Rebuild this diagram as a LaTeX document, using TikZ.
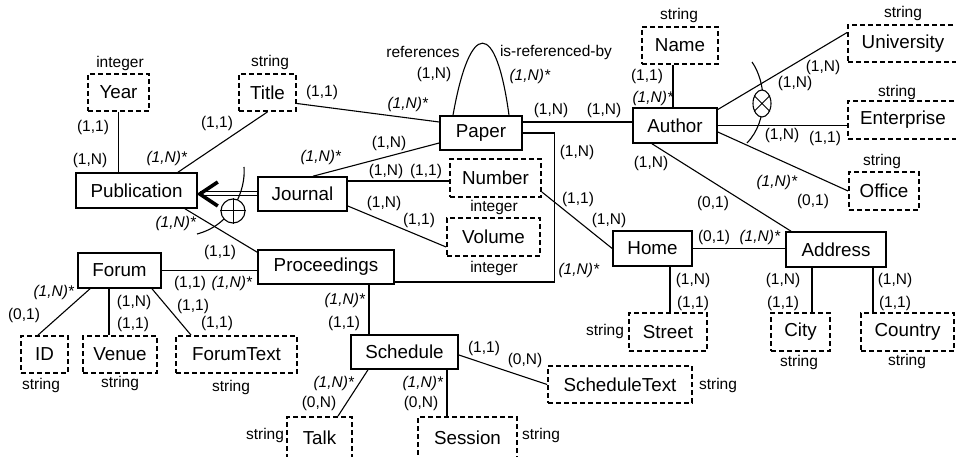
\documentclass[tikz,border=0pt]{standalone}
\usepackage{fontspec}
\setmainfont{Liberation Sans}
\usetikzlibrary{calc,shapes.geometric}

\begin{document}
\begin{tikzpicture}[x=1pt,y=-1pt,
  sz/.style 2 args={minimum width=#1, minimum height=#2},
  ent/.style={draw, line width=1.6pt, inner sep=0pt, font=\fontsize{18.8}{21}\selectfont},
  attr/.style={draw, dash pattern=on 5pt off 3pt, line width=1.8pt, inner sep=0pt, font=\fontsize{18.8}{21}\selectfont},
  card/.style={inner sep=0pt, font=\fontsize{15.5}{17}\selectfont},
  typ/.style={card},
  conn/.style={line width=1.1pt},
]
\useasboundingbox (0,0) rectangle (956,457);

% entity types
\node[ent, sz={121}{35}] (pub) at (136.5,190.5) {Publication};
\node[ent, sz={89}{34}] (journal) at (302.5,194) {Journal};
\node[ent, sz={136}{34}] (proc) at (326,267) {Proceedings};
\node[ent, sz={83}{35}] (forum) at (119.5,270.5) {Forum};
\node[ent, sz={107}{34}] (sched) at (404.5,352) {Schedule};
\node[ent, sz={82}{34}] (paper) at (481,133) {Paper};
\node[ent, sz={84}{35}] (author) at (675,125.5) {Author};
\node[ent, sz={79}{35}] (home) at (652.5,248.5) {Home};
\node[ent, sz={100}{35}] (address) at (836,249.5) {Address};

% attributes
\node[attr, sz={61}{37}] (year) at (118.5,92.5) {Year};
\node[attr, sz={57}{37}] (title) at (267.5,92.5) {Title};
\node[attr, sz={47}{37}] (id) at (44.5,354.5) {ID};
\node[attr, sz={74}{37}] (venue) at (120,354.5) {Venue};
\node[attr, sz={121}{37}] (forumtext) at (236.5,354.5) {ForumText};
\node[attr, sz={65}{41}] (talk) at (319.5,437.5) {Talk};
\node[attr, sz={99}{41}] (session) at (467.5,437.5) {Session};
\node[attr, sz={144}{37}] (schedtext) at (620,384.5) {ScheduleText};
\node[attr, sz={91}{38}] (number) at (495.5,178) {Number};
\node[attr, sz={93}{38}] (volume) at (493.5,237) {Volume};
\node[attr, sz={76}{37}] (name) at (680,45.5) {Name};
\node[attr, sz={110}{37}] (univ) at (903,43.5) {University};
\node[attr, sz={110}{38}] (enterprise) at (903,120) {Enterprise};
\node[attr, sz={70}{38}] (office) at (884,191) {Office};
\node[attr, sz={78}{38}] (street) at (668,332) {Street};
\node[attr, sz={59}{38}] (city) at (800.5,332) {City};
\node[attr, sz={93}{38}] (country) at (907.5,332) {Country};

% data types
\node[typ] (t1) at (120,63) {integer};
\node[typ] (t2) at (270,62) {string};
\node[typ] (t3) at (41,385) {string};
\node[typ] (t4) at (120,383) {string};
\node[typ] (t5) at (231,387) {string};
\node[typ] (t6) at (265,435) {string};
\node[typ] (t7) at (541,435) {string};
\node[typ] (t8) at (718,385) {string};
\node[typ] (t9) at (494,207) {integer};
\node[typ] (t10) at (494,268) {integer};
\node[typ] (t11) at (679,15) {string};
\node[typ] (t12) at (903,13) {string};
\node[typ] (t13) at (897,92) {string};
\node[typ] (t14) at (882,161) {string};
\node[typ] (t15) at (605,331) {string};
\node[typ] (t16) at (799,362) {string};
\node[typ] (t17) at (907,361) {string};

% roles of the reflexive relationship
\node[card] (r1) at (423,52) {references};
\node[card] (r2) at (556,52) {is-referenced-by};

% connectors
\draw[conn] (year.south) -- (year.south |- pub.north);
\draw[conn] (title.south) -- ($(pub.north)+(41.5,0)$);
\draw[conn] ($(title.east)+(0,11)$) -- ($(paper.west)+(0,-11)$);
\draw[conn] ($(paper.north)+(-28,0)$) .. controls ($(paper.north)+(-11,-96)$) and ($(paper.north)+(15,-96)$) .. ($(paper.north)+(28,0)$);
\coordinate (pa) at ($(paper.east)+(0,-11)$);
\draw[conn] (pa) -- (pa -| author.west);
\draw[conn] ($(journal.north)+(10.5,0)$) -- ($(paper.west)+(0,10)$);
\coordinate (jn) at ($(journal.east)+(0,-13)$);
\draw[conn] (jn) -- (jn -| number.west);
\draw[conn] ($(journal.east)+(0,12)$) -- ($(volume.west)+(0,10)$);
\coordinate (pj) at (pub.east |- journal.west);
\coordinate (tip) at ($(pj)+(2,0)$);
\draw[double, double distance=3pt, line width=1pt] (journal.west) -- (tip);
\draw[line width=3.6pt] ($(tip)+(18,-12)$) -- (tip) -- ($(tip)+(18,12)$);
\draw[conn] ($(pub.south)+(48.5,0)$) -- ($(proc.north west)+(0,3)$);
\draw[conn] (forum.east) -- (forum.east -| proc.west);
\draw[conn] ($(forum.south)+(-29.5,0)$) -- ($(id.north)+(-6.5,0)$);
\coordinate (fv) at ($(venue.north)+(-11,0)$);
\draw[conn] (fv) -- (fv |- forum.south);
\draw[conn] ($(forum.south)+(32.5,0)$) -- ($(forumtext.north)+(-45.5,0)$);
\coordinate (ps) at ($(sched.north)+(-35.5,0)$);
\draw[conn] (ps) -- (ps |- proc.south);
\draw[conn] (paper.east) -- ++(32,0) |- ($(proc.east)+(0,15)$);
\draw[conn] ($(number.east)+(0,14)$) -- (home.west);
\coordinate (an) at ($(name.south)+(-7,0)$);
\draw[conn] (an) -- (an |- author.north);
\draw[conn] ($(author.east)+(0,-16)$) -- ($(univ.west)+(0,-11)$);
\draw[conn] (author.east) -- (author.east -| enterprise.west);
\draw[conn] ($(author.east)+(0,6.5)$) -- (office.west);
\draw[conn] ($(author.south)+(-23,0)$) -- ($(address.north)+(-45,0)$);
\draw[conn] (home.east) -- (home.east -| address.west);
\coordinate (hs) at ($(street.north)+(2,0)$);
\draw[conn] (hs) -- (hs |- home.south);
\coordinate (ac) at ($(city.north)+(11.5,0)$);
\draw[conn] (ac) -- (ac |- address.south);
\coordinate (aco) at ($(country.north)+(-34.5,0)$);
\draw[conn] (aco) -- (aco |- address.south);
\draw[conn] ($(sched.south)+(-36.5,0)$) -- ($(talk.north)+(18.5,0)$);
\coordinate (ss) at ($(session.north)+(-20.5,0)$);
\draw[conn] (ss) -- (ss |- sched.south);
\draw[conn] ($(sched.east)+(0,3)$) -- (schedtext.west);

% generalization and disjointness markers
\draw[conn] (244,167) .. controls (246,190) and (232,225) .. (197,234);
\node[circle, draw, fill=white, line width=1.1pt, minimum size=24pt, inner sep=0pt] (dj1) at (233,211) {};
\draw[line width=1pt] (dj1.north) -- (dj1.south) (dj1.west) -- (dj1.east);
\draw[conn] (752,62) .. controls (766,82) and (769,120) .. (747,143);
\node[ellipse, draw, fill=white, line width=1.1pt, minimum width=18pt, minimum height=27pt, inner sep=0pt] (dj2) at (762,103.5) {};
\draw[line width=1pt] (dj2.45) -- (dj2.225) (dj2.135) -- (dj2.315);

% cardinalities
\node[card] (c1) at (93,127) {(1,1)};
\node[card] (c2) at (90,160) {(1,N)};
\node[card] (c3) at (217,123) {(1,1)};
\node[card] (c4) at (167,158) {\textit{(1,N)*}};
\node[card] (c5) at (322,92) {(1,1)};
\node[card] (c6) at (408,104) {\textit{(1,N)*}};
\node[card] (c7) at (434,74) {(1,N)};
\node[card] (c8) at (530,76) {\textit{(1,N)*}};
\node[card] (c9) at (551,110) {(1,N)};
\node[card] (c10) at (604,110) {(1,N)};
\node[card] (c11) at (389,143) {(1,N)};
\node[card] (c12) at (321,157) {\textit{(1,N)*}};
\node[card] (c13) at (386,171) {(1,N)};
\node[card] (c14) at (426,171) {(1,1)};
\node[card] (c15) at (384,203) {(1,N)};
\node[card] (c16) at (419,220) {(1,1)};
\node[card] (c17) at (577,152) {(1,N)};
\node[card] (c18) at (579,270) {\textit{(1,N)*}};
\node[card] (c19) at (578,199) {(1,1)};
\node[card] (c20) at (609,220) {(1,N)};
\node[card] (c21) at (176,223) {\textit{(1,N)*}};
\node[card] (c22) at (220,252) {(1,1)};
\node[card] (c23) at (190,283) {(1,1)};
\node[card] (c24) at (232,283) {\textit{(1,N)*}};
\node[card] (c25) at (54,292) {\textit{(1,N)*}};
\node[card] (c26) at (24,315) {(0,1)};
\node[card] (c27) at (134,302) {(1,N)};
\node[card] (c28) at (133,324) {(1,1)};
\node[card] (c29) at (193,306) {(1,1)};
\node[card] (c30) at (217,323) {(1,1)};
\node[card] (c31) at (345,300) {\textit{(1,N)*}};
\node[card] (c32) at (344,323) {(1,1)};
\node[card] (c33) at (484,348) {(1,1)};
\node[card] (c34) at (525,360) {(0,N)};
\node[card] (c35) at (334,383) {\textit{(1,N)*}};
\node[card] (c36) at (319,403) {(0,N)};
\node[card] (c37) at (423,383) {\textit{(1,N)*}};
\node[card] (c38) at (421,403) {(0,N)};
\node[card] (c39) at (647,76) {(1,1)};
\node[card] (c40) at (653,98) {\textit{(1,N)*}};
\node[card] (c41) at (823,67) {(1,N)};
\node[card] (c42) at (795,83) {(1,N)};
\node[card] (c43) at (782,135) {(1,N)};
\node[card] (c44) at (825,138) {(1,1)};
\node[card] (c45) at (777,182) {\textit{(1,N)*}};
\node[card] (c46) at (813,201) {(0,1)};
\node[card] (c47) at (651,163) {(1,N)};
\node[card] (c48) at (713,203) {(0,1)};
\node[card] (c49) at (714,237) {(0,1)};
\node[card] (c50) at (760,237) {\textit{(1,N)*}};
\node[card] (c51) at (693,280) {(1,N)};
\node[card] (c52) at (693,303) {(1,1)};
\node[card] (c53) at (783,280) {(1,N)};
\node[card] (c54) at (783,303) {(1,1)};
\node[card] (c55) at (895,280) {(1,N)};
\node[card] (c56) at (895,303) {(1,1)};
\end{tikzpicture}
\end{document}
